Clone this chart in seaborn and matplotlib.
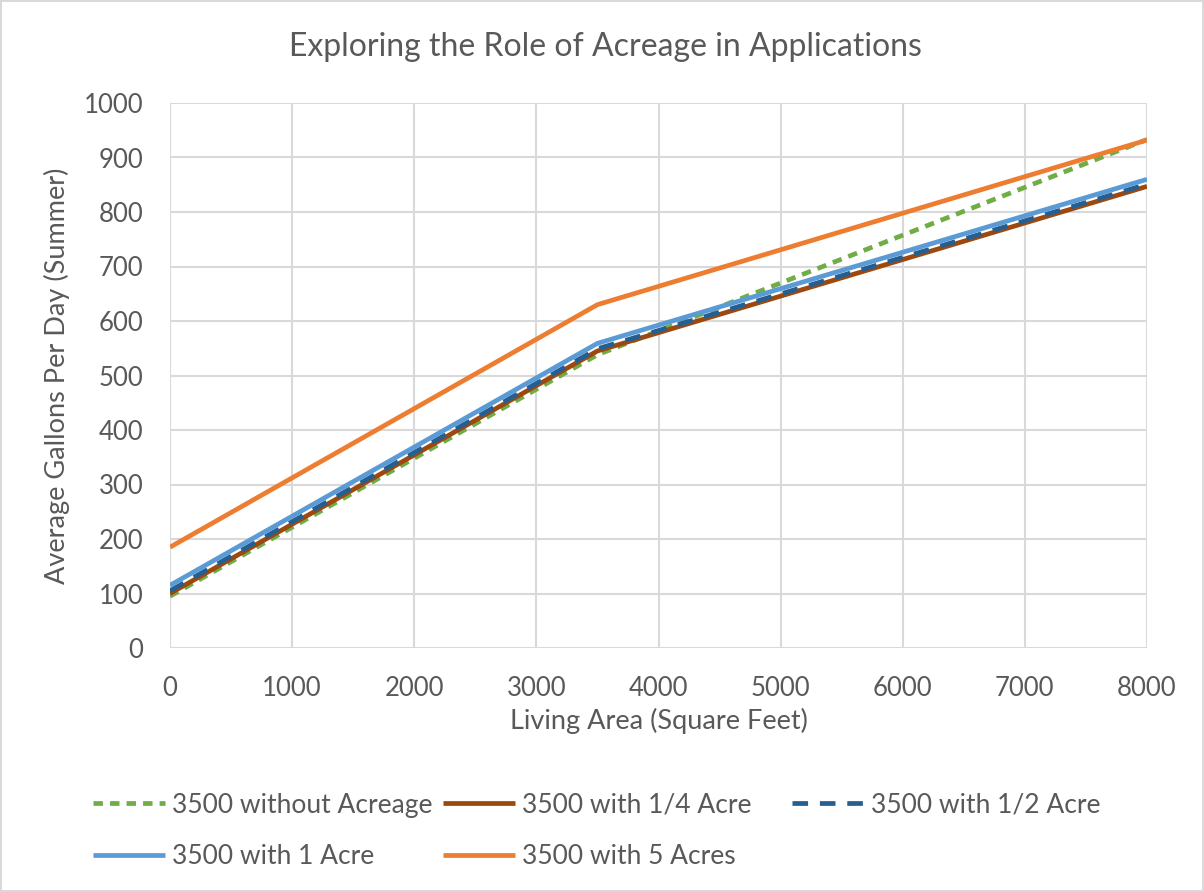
import matplotlib
matplotlib.use("Agg")
import matplotlib.pyplot as plt
import seaborn as sns
import pandas as pd

living_area = [0, 3500, 8000]
without_acreage = [95, 538, 933]
with_quarter_acre = [100, 545, 847]
with_half_acre = [105, 549, 851]
with_one_acre = [115, 559, 860]
with_five_acres = [185, 630, 932]

series_names = ["3500 without Acreage", "3500 with 1/4 Acre", "3500 with 1/2 Acre",
                "3500 with 1 Acre", "3500 with 5 Acres"]
series_values = [without_acreage, with_quarter_acre, with_half_acre, with_one_acre, with_five_acres]
colors = ["#70AD47", "#9E480E", "#255E91", "#5B9BD5", "#ED7D31"]
dashes = [(2.0, 1.5), "", (3.3, 2.5), "", ""]

x_ticks = [0, 1000, 2000, 3000, 4000, 5000, 6000, 7000, 8000]
y_ticks = [0, 100, 200, 300, 400, 500, 600, 700, 800, 900, 1000]

sns.set_theme(style="white")
plt.rcParams['font.family'] = ['Lato', 'DejaVu Sans']
text_color = "#595959"

fig = plt.figure(figsize=(12.04, 8.92), dpi=100)
fig.patch.set_edgecolor("#D9D9D9")
fig.patch.set_linewidth(1.5)
ax = fig.add_axes([170/1204, 1-648/892, (1147-170)/1204, (648-103)/892])

for name, vals, c, d in zip(series_names, series_values, colors, dashes):
    df = pd.DataFrame({"x": living_area, "y": vals})
    sns.lineplot(data=df, x="x", y="y", ax=ax, color=c, linewidth=3.4, label=name, legend=False)
    l = ax.get_lines()[-1]
    l.set_label(name)
    if d:
        l.set_dashes(d)
    l.set_solid_capstyle("butt")
    l.set_dash_capstyle("butt")

ax.set_xlim(0, 8000)
ax.set_ylim(0, 1000)
ax.set_xticks(x_ticks)
ax.set_yticks(y_ticks)
ax.set_xticklabels([str(v) for v in x_ticks], fontsize=18.5, color=text_color)
ax.set_yticklabels([str(v) for v in y_ticks], fontsize=18.5, color=text_color)
ax.tick_params(axis="x", length=0, pad=20)
ax.tick_params(axis="y", length=0, pad=19)
ax.grid(True, color="#D9D9D9", linewidth=1.5)
ax.set_axisbelow(True)
for s in ax.spines.values():
    s.set_visible(False)

ax.set_xlabel("Living Area (Square Feet)", fontsize=19.5, color=text_color)
ax.xaxis.set_label_coords(0.5, (648-708)/545)
ax.set_ylabel("Average Gallons Per Day (Summer)", fontsize=19.5, color=text_color)
ax.yaxis.set_label_coords((70-170)/977, 0.5)
fig.text(605/1204, 1-47/892, "Exploring the Role of Acreage in Applications",
         ha="center", va="center", fontsize=23, color=text_color)

lines = ax.get_lines()
legend_pos = [(93, 805), (443, 805), (792, 805), (93, 857), (443, 857)]
for line, (px, py) in zip(lines, legend_pos):
    leg = fig.legend(handles=[line], labels=[line.get_label()], loc="center left",
                     bbox_to_anchor=(px/1204, 1-py/892), frameon=False, fontsize=19,
                     handlelength=2.73, handletextpad=0.26, borderaxespad=0, borderpad=0)
    for t in leg.get_texts():
        t.set_color(text_color)

fig.savefig("out.png", dpi=100)
